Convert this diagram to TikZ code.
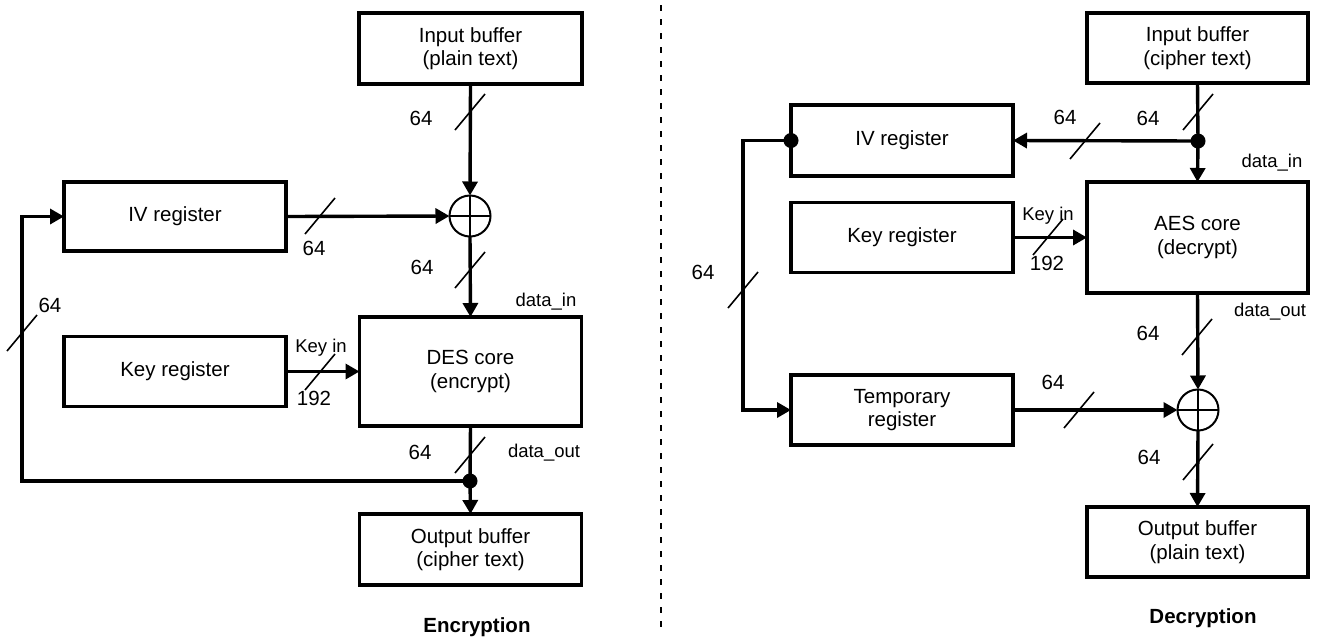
\documentclass[tikz,border=0pt]{standalone}
\usepackage{fontspec}
\setmainfont{Liberation Sans}
\usetikzlibrary{arrows.meta}
\newcommand\fsn{\fontsize{20.5}{23.5}\selectfont}
\newcommand\fss{\fontsize{18.5}{21}\selectfont}
\begin{document}
\begin{tikzpicture}[x=1pt,y=-1pt,
 blk/.style={draw,line width=3.6pt,inner sep=0pt,outer sep=0pt,align=center,font=\fsn},
 wire/.style={line width=3.4pt},
 arr/.style={wire,-{Triangle[length=14pt,width=15pt]}},
 xr/.style={draw,circle,line width=2pt,minimum size=41pt,inner sep=0pt,outer sep=0pt},
 jn/.style={circle,fill,minimum size=15pt,inner sep=0pt},
 sl/.style={line width=1.6pt},
 lb/.style={font=\fsn,inner sep=0pt},
 sm/.style={font=\fss,inner sep=0pt},
 ttl/.style={font=\fsn\bfseries,inner sep=0pt}]
\useasboundingbox (0,0) rectangle (1319,641);
\fill[white] (0,0) rectangle (1319,641);

% ---------------- Encryption ----------------
\node[blk,minimum width=223pt,minimum height=71pt] (inL) at (470.5,48.5) {Input buffer\\(plain text)};
\node[xr] (xorL) at (470,216) {};
\draw[line width=1.5pt] (xorL.north) -- (xorL.south) (xorL.west) -- (xorL.east);
\node[blk,minimum width=222pt,minimum height=69pt] (ivL) at (175,216.5) {IV register};
\node[blk,minimum width=222pt,minimum height=109pt] (desL) at (470.5,371.5) {DES core\\(encrypt)};
\node[blk,minimum width=222pt,minimum height=70pt] (keyL) at (175,371.5) {Key register};
\node[blk,minimum width=222pt,minimum height=71pt] (outL) at (470.5,549.5) {Output buffer\\(cipher text)};
\node[jn] (dotL) at (470,481) {};
\coordinate (fbL) at (22,481);

\draw[arr] (inL.south) -- (xorL.north);
\draw[arr] (ivL.east) -- (xorL.west);
\draw[arr] (xorL.south) -- (desL.north);
\draw[arr] (keyL.east) -- (desL.west);
\draw[wire] (desL.south) -- (dotL.center);
\draw[arr] (dotL.center) -- (outL.north);
\draw[arr] (dotL.center) -- (fbL) |- (ivL.west);

\draw[sl] (455,130) -- +(30,-36);
\draw[sl] (305,234) -- +(30,-36);
\draw[sl] (455,288) -- +(30,-36);
\draw[sl] (305,390) -- +(30,-36);
\draw[sl] (455,473) -- +(30,-36);
\draw[sl] (7,351) -- +(30,-36);

\node[lb] (l1) at (421,118) {64};
\node[lb] (l2) at (314,248) {64};
\node[lb] (l3) at (422,267) {64};
\node[sm] (l4) at (546,302) {data\_in};
\node[sm] (l5) at (321,348) {Key in};
\node[lb] (l6) at (314,398) {192};
\node[lb] (l7) at (420,452) {64};
\node[sm] (l8) at (544,453) {data\_out};
\node[lb] (l9) at (50,305) {64};
\node[ttl] (tE) at (477,627) {Encryption};

% ---------------- divider ----------------
\draw[line width=2.2pt,dash pattern=on 6pt off 8pt] (661,5) -- (661,632);

% ---------------- Decryption ----------------
\node[blk,minimum width=221pt,minimum height=70pt] (inR) at (1197.5,48) {Input buffer\\(cipher text)};
\node[jn] (dotR) at (1198,141) {};
\node[blk,minimum width=222pt,minimum height=71pt] (ivR) at (902,140.5) {IV register};
\node[blk,minimum width=221pt,minimum height=111pt] (aesR) at (1197.5,237.5) {AES core\\(decrypt)};
\node[blk,minimum width=222pt,minimum height=70pt] (keyR) at (902,237.5) {Key register};
\node[blk,minimum width=222pt,minimum height=70pt] (tmpR) at (902,410) {Temporary\\register};
\node[xr] (xorR) at (1198,410) {};
\draw[line width=1.5pt] (xorR.north) -- (xorR.south) (xorR.west) -- (xorR.east);
\node[blk,minimum width=221pt,minimum height=70pt] (outR) at (1197.5,542) {Output buffer\\(plain text)};
\node[jn] (dotIV) at (ivR.west) {};
\coordinate (cR) at (743,140.5);

\draw[wire] (inR.south) -- (dotR.center);
\draw[arr] (dotR.center) -- (aesR.north);
\draw[arr] (dotR.center) -- (ivR.east);
\draw[arr] (dotIV.center) -- (cR) |- (tmpR.west);
\draw[arr] (keyR.east) -- (aesR.west);
\draw[arr] (aesR.south) -- (xorR.north);
\draw[arr] (tmpR.east) -- (xorR.west);
\draw[arr] (xorR.south) -- (outR.north);

\draw[sl] (1183,130) -- +(30,-36);
\draw[sl] (1070,159) -- +(30,-36);
\draw[sl] (1033,255) -- +(30,-36);
\draw[sl] (1182,355) -- +(30,-36);
\draw[sl] (1064,428) -- +(30,-36);
\draw[sl] (1183,480) -- +(30,-36);
\draw[sl] (728,308) -- +(30,-36);

\node[lb] (r1) at (1148,118) {64};
\node[lb] (r2) at (1065,117) {64};
\node[sm] (r3) at (1272,163) {data\_in};
\node[sm] (r4) at (1048,216) {Key in};
\node[lb] (r5) at (1047,263) {192};
\node[sm] (r6) at (1270,312) {data\_out};
\node[lb] (r7) at (1148,333) {64};
\node[lb] (r8) at (1053,382) {64};
\node[lb] (r9) at (1149,457) {64};
\node[lb] (r10) at (703,272) {64};
\node[ttl] (tD) at (1203,618) {Decryption};
\end{tikzpicture}
\end{document}
